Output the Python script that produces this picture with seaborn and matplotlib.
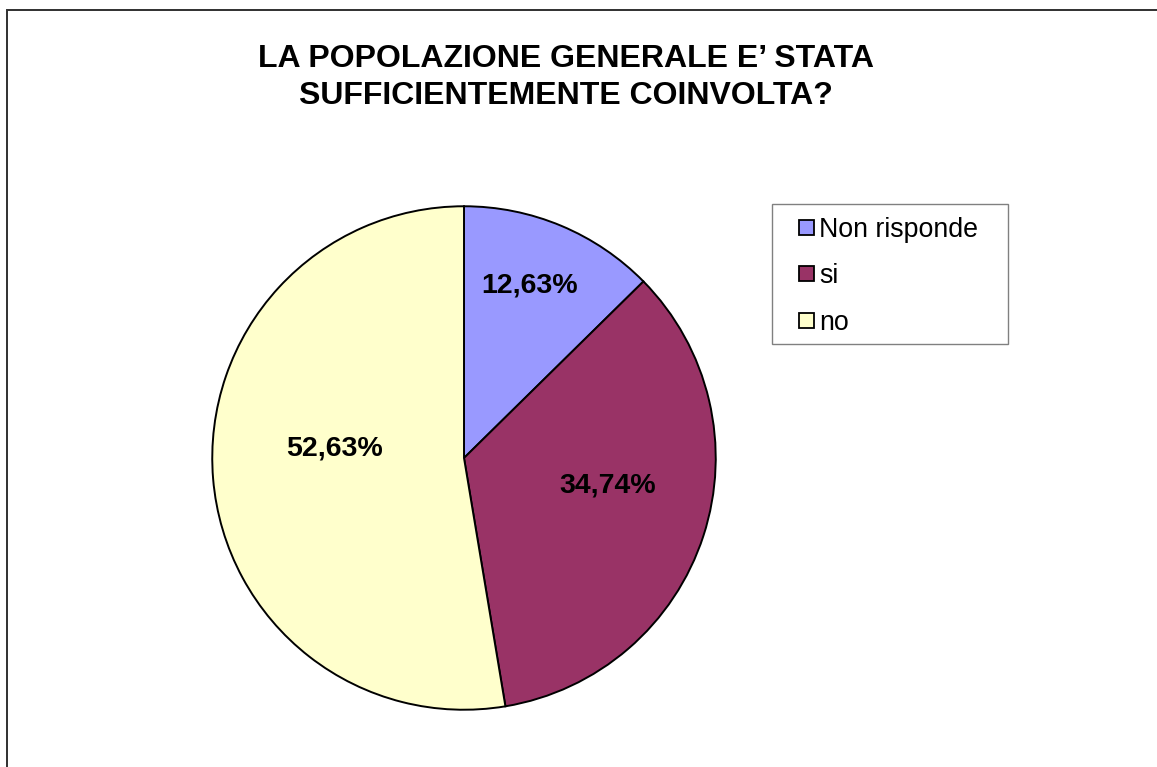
import matplotlib
matplotlib.use("Agg")
import matplotlib.pyplot as plt
from matplotlib.patches import Patch, Rectangle
import seaborn as sns

# Survey answers and their shares (percent)
categories = ["Non risponde", "si", "no"]
shares = [12.63, 34.74, 52.63]
colors = ["#9999FF", "#993366", "#FFFFCC"]
title = "LA POPOLAZIONE GENERALE E\u2019 STATA\nSUFFICIENTEMENTE COINVOLTA?"

sns.set_theme(style="white")
plt.rcParams["font.family"] = ["Liberation Sans", "DejaVu Sans"]
plt.rcParams["text.color"] = "black"

W, H = 1157, 767
fig = plt.figure(figsize=(W / 100, H / 100), dpi=100)
fig.patch.set_facecolor("white")

# Outer chart-area frame (only top and left edges fall inside the canvas)
fig.patches.append(Rectangle((6.5 / W, -0.5), 2.0, 1.5 - 9.5 / H,
                             transform=fig.transFigure, fill=False,
                             edgecolor="#303030", linewidth=1.4, zorder=0))

# Pie axes: centre (464, 458), radius 253 px
cx, cy, r = 464, 458, 253
ax = fig.add_axes([(cx - r) / W, (H - cy - r) / H, 2 * r / W, 2 * r / H])
wedges, _ = ax.pie(shares, colors=colors, startangle=90, counterclock=False,
                   radius=1.0,
                   wedgeprops=dict(edgecolor="black", linewidth=1.4))
ax.set_xlim(-1.005, 1.005)
ax.set_ylim(-1.005, 1.005)
ax.set_aspect("equal")
ax.axis("off")

# Percentage labels placed inside each slice
label_pos = [(0.261, 0.684), (0.569, -0.111), (-0.514, 0.036)]
for val, (x, y) in zip(shares, label_pos):
    ax.text(x, y, f"{val:.2f}".replace(".", ",") + "%", ha="center",
            va="center", fontsize=20.5, fontweight="bold", color="black")

fig.text(566 / W, 1 - 77.5 / H, title, ha="center", va="center",
         fontsize=23, fontweight="bold", linespacing=1.3, color="black")

# Legend box drawn separately so its padding can be set freely
fig.patches.append(Rectangle((772 / W, 1 - 344 / H), 236 / W, 140 / H,
                             transform=fig.transFigure, facecolor="white",
                             edgecolor="#808080", linewidth=1.0, zorder=2))
handles = [Patch(facecolor=c, edgecolor="black", linewidth=1.3) for c in colors]
leg = fig.legend(handles, categories, loc="upper left",
                 bbox_to_anchor=(799 / W, 1 - 217 / H),
                 fontsize=19.3, frameon=False,
                 handlelength=0.56, handleheight=0.5, handletextpad=0.2,
                 labelspacing=0.76, borderpad=0, borderaxespad=0)
leg.set_zorder(3)
for t in leg.get_texts():
    t.set_color("black")

fig.savefig("out.png", dpi=100, facecolor="white")
